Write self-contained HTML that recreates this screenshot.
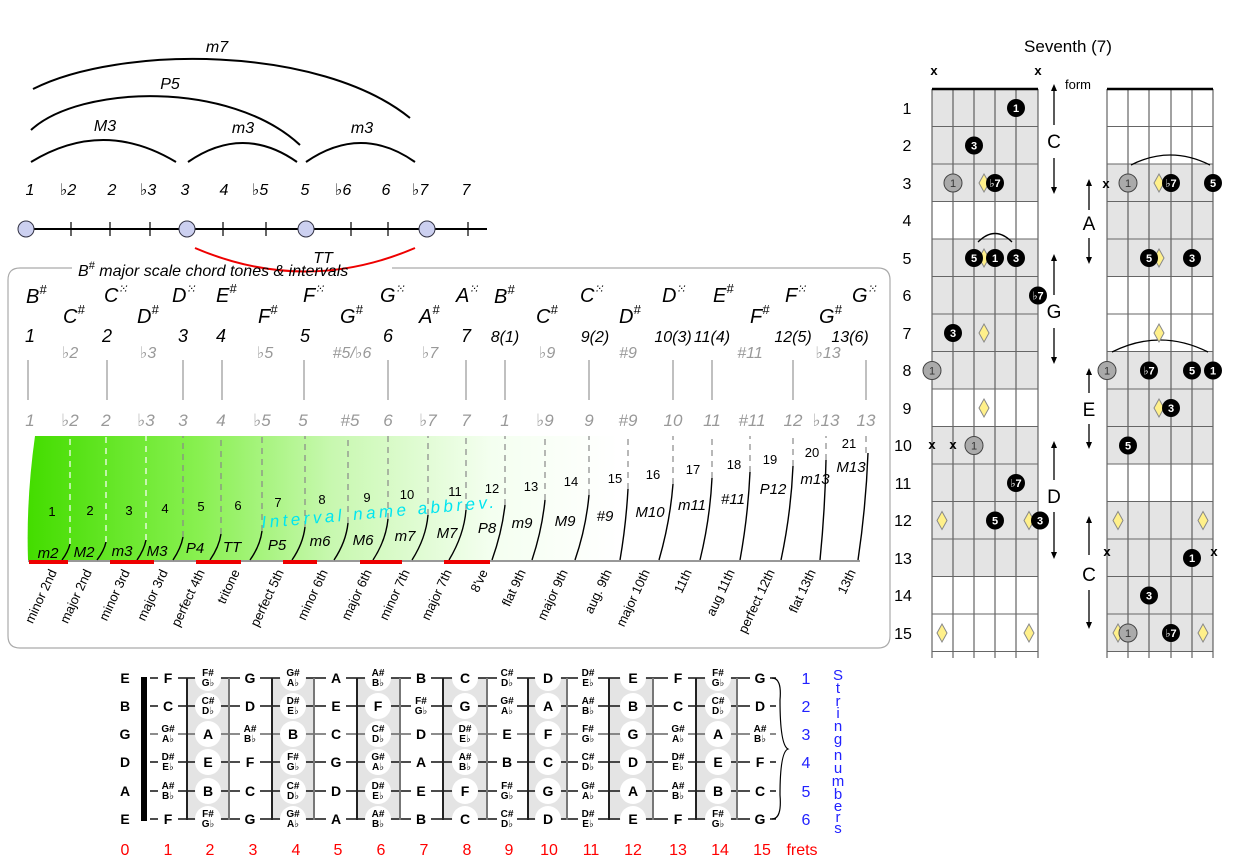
<!DOCTYPE html>
<html><head><meta charset="utf-8"><style>
body{margin:0;background:#fff}
svg{display:block;font-family:"Liberation Sans","DejaVu Sans",sans-serif}
.it{font-style:italic}
.g{fill:#999}
.nb{font-weight:bold;font-size:14px;text-anchor:middle}
.ns{font-weight:bold;font-size:10px;text-anchor:middle}
.dt{font-size:11px;font-weight:bold;text-anchor:middle;fill:#fff}
.rl{font-size:13px;text-anchor:end}
</style></head><body>
<svg width="1233" height="868" viewBox="0 0 1233 868">
<defs>
<linearGradient id="gr" x1="30" x2="870" y1="0" y2="0" gradientUnits="userSpaceOnUse">
<stop offset="0" stop-color="#44dd00"/><stop offset="0.2" stop-color="#88f050"/><stop offset="0.36" stop-color="#c8f8b0"/><stop offset="0.55" stop-color="#f4fff0"/><stop offset="0.7" stop-color="#fff"/></linearGradient>
<g id="dia"><polygon points="0,-9 5,0 0,9 -5,0" fill="#fff08a" stroke="#888" stroke-width="1"/></g>
</defs>

<!-- top arcs -->
<g fill="none" stroke="#000" stroke-width="2">
<path d="M31,162 Q103,118 176,162"/>
<path d="M188,162 Q243,124 297,162"/>
<path d="M306,162 Q361,124 415,162"/>
<path d="M31,130 C80,85 230,80 300,145"/>
<path d="M33,89 C120,45 320,45 410,118"/>
</g>
<path d="M195,248 Q305,295 415,248" fill="none" stroke="#e00" stroke-width="2"/>
<g class="it" font-size="16" text-anchor="middle">
<text x="217" y="52">m7</text><text x="170" y="89">P5</text><text x="105" y="131">M3</text><text x="243" y="133">m3</text><text x="362" y="133">m3</text>
<text x="323" y="263">TT</text>
<text x="30" y="195">1</text><text x="68" y="195">♭2</text><text x="112" y="195">2</text><text x="148" y="195">♭3</text><text x="185" y="195">3</text><text x="224" y="195">4</text><text x="260" y="195">♭5</text><text x="305" y="195">5</text><text x="343" y="195">♭6</text><text x="386" y="195">6</text><text x="420" y="195">♭7</text><text x="466" y="195">7</text>
</g>
<line x1="20" y1="229" x2="487" y2="229" stroke="#000" stroke-width="2"/>
<g stroke="#000" stroke-width="1.2"><line x1="71" y1="222" x2="71" y2="236"/><line x1="110" y1="222" x2="110" y2="236"/><line x1="150" y1="222" x2="150" y2="236"/><line x1="223" y1="222" x2="223" y2="236"/><line x1="266" y1="222" x2="266" y2="236"/><line x1="351" y1="222" x2="351" y2="236"/><line x1="388" y1="222" x2="388" y2="236"/><line x1="468" y1="222" x2="468" y2="236"/></g>
<g fill="#ccd0f0" stroke="#334" stroke-width="1"><circle cx="26" cy="229" r="8"/><circle cx="187" cy="229" r="8"/><circle cx="306" cy="229" r="8"/><circle cx="427" cy="229" r="8"/></g>

<!-- box -->
<path d="M72,268 H20 Q8,268 8,280 V636 Q8,648 20,648 H878 Q890,648 890,636 V280 Q890,268 878,268 H392" fill="none" stroke="#aaa" stroke-width="1.2"/>
<text x="78" y="276" class="it" font-size="16">B<tspan font-size="11" dy="-7">#</tspan><tspan dy="7"> major scale chord tones &amp; intervals</tspan></text>

<g class="it" font-size="20">
<text x="26" y="303">B<tspan font-size="13" dy="-9">#</tspan></text>
<text x="104" y="302">C<tspan font-size="12" dy="-9">⁙</tspan></text>
<text x="172" y="302">D<tspan font-size="12" dy="-9">⁙</tspan></text>
<text x="216" y="302">E<tspan font-size="13" dy="-9">#</tspan></text>
<text x="303" y="302">F<tspan font-size="12" dy="-9">⁙</tspan></text>
<text x="380" y="302">G<tspan font-size="12" dy="-9">⁙</tspan></text>
<text x="456" y="302">A<tspan font-size="12" dy="-9">⁙</tspan></text>
<text x="494" y="303">B<tspan font-size="13" dy="-9">#</tspan></text>
<text x="580" y="302">C<tspan font-size="12" dy="-9">⁙</tspan></text>
<text x="662" y="302">D<tspan font-size="12" dy="-9">⁙</tspan></text>
<text x="713" y="302">E<tspan font-size="13" dy="-9">#</tspan></text>
<text x="785" y="302">F<tspan font-size="12" dy="-9">⁙</tspan></text>
<text x="852" y="302">G<tspan font-size="12" dy="-9">⁙</tspan></text>
<text x="63" y="323">C<tspan font-size="13" dy="-9">#</tspan></text>
<text x="137" y="323">D<tspan font-size="13" dy="-9">#</tspan></text>
<text x="258" y="323">F<tspan font-size="13" dy="-9">#</tspan></text>
<text x="340" y="323">G<tspan font-size="13" dy="-9">#</tspan></text>
<text x="419" y="323">A<tspan font-size="13" dy="-9">#</tspan></text>
<text x="536" y="323">C<tspan font-size="13" dy="-9">#</tspan></text>
<text x="619" y="323">D<tspan font-size="13" dy="-9">#</tspan></text>
<text x="750" y="323">F<tspan font-size="13" dy="-9">#</tspan></text>
<text x="819" y="323">G<tspan font-size="13" dy="-9">#</tspan></text>
</g>
<g class="it" font-size="18" text-anchor="middle">
<text x="30" y="342">1</text><text x="107" y="342">2</text><text x="183" y="342">3</text><text x="221" y="342">4</text><text x="305" y="342">5</text><text x="388" y="342">6</text><text x="466" y="342">7</text>
<text x="505" y="342" font-size="16">8(1)</text><text x="595" y="342" font-size="16">9(2)</text><text x="673" y="342" font-size="16">10(3)</text><text x="712" y="342" font-size="16">11(4)</text><text x="793" y="342" font-size="16">12(5)</text><text x="850" y="342" font-size="16">13(6)</text>
</g>
<g class="it g" font-size="16" text-anchor="middle">
<text x="70" y="358">♭2</text><text x="148" y="358">♭3</text><text x="265" y="358">♭5</text><text x="352" y="358">#5/♭6</text><text x="430" y="358">♭7</text><text x="547" y="358">♭9</text><text x="628" y="358">#9</text><text x="750" y="358">#11</text><text x="828" y="358">♭13</text>
</g>
<g stroke="#aaa" stroke-width="1.5"><line x1="28" y1="360" x2="28" y2="400"/><line x1="107" y1="360" x2="107" y2="400"/><line x1="183" y1="360" x2="183" y2="400"/><line x1="222" y1="360" x2="222" y2="400"/><line x1="304" y1="360" x2="304" y2="400"/><line x1="388" y1="360" x2="388" y2="400"/><line x1="466" y1="360" x2="466" y2="400"/><line x1="505" y1="360" x2="505" y2="400"/><line x1="589" y1="360" x2="589" y2="400"/><line x1="673" y1="360" x2="673" y2="400"/><line x1="712" y1="360" x2="712" y2="400"/><line x1="793" y1="360" x2="793" y2="400"/><line x1="866" y1="360" x2="866" y2="400"/></g>
<g class="it g" font-size="17" text-anchor="middle">
<text x="30" y="426">1</text><text x="70" y="426">♭2</text><text x="106" y="426">2</text><text x="146" y="426">♭3</text><text x="183" y="426">3</text><text x="221" y="426">4</text><text x="262" y="426">♭5</text><text x="303" y="426">5</text><text x="350" y="426">#5</text><text x="388" y="426">6</text><text x="428" y="426">♭7</text><text x="466" y="426">7</text><text x="505" y="426">1</text><text x="545" y="426">♭9</text><text x="589" y="426">9</text><text x="628" y="426">#9</text><text x="673" y="426">10</text><text x="712" y="426">11</text><text x="752" y="426">#11</text><text x="793" y="426">12</text><text x="826" y="426">♭13</text><text x="866" y="426">13</text>
</g>

<!-- green region -->
<path d="M35,436 L870,436 L870,560 L28,560 Q26,500 35,436 Z" fill="url(#gr)"/>
<g fill="none" stroke-dasharray="6,5" stroke-width="1.2">
<g stroke="#fff"><path d="M70,544 L70,436"/><path d="M106,542 L106,436"/><path d="M146,540 L146,436"/></g>
<g stroke="#888"><path d="M183,537 L183,436"/><path d="M221,534 L221,436"/><path d="M262,531 L262,436"/><path d="M305,527 L305,436"/><path d="M348,523 L348,436"/><path d="M388,519 L388,436"/><path d="M428,515 L428,436"/><path d="M466,510 L466,436"/><path d="M505,505 L505,436"/><path d="M545,500 L545,436"/><path d="M589,495 L589,436"/><path d="M628,489 L628,436"/><path d="M673,484 L673,436"/><path d="M712,478 L712,436"/><path d="M750,472 L750,436"/><path d="M793,466 L793,436"/><path d="M826,460 L826,436"/><path d="M866,453 L866,436"/></g>
</g>
<g fill="none" stroke="#000" stroke-width="1.4">
<path d="M62,560 Q68,552 70,544"/><path d="M97,560 Q104,551 106,542"/><path d="M137,560 Q144,550 146,540"/><path d="M173,560 Q181,548 183,537"/><path d="M210,560 Q219,547 221,534"/><path d="M250,560 Q260,546 262,531"/><path d="M292,560 Q303,544 305,527"/><path d="M334,560 Q346,542 348,523"/><path d="M373,560 Q386,540 388,519"/><path d="M412,560 Q426,538 428,515"/><path d="M449,560 Q464,535 466,510"/><path d="M492,560 Q502,532 505,505"/><path d="M532,560 Q542,530 545,500"/><path d="M575,560 Q586,528 589,495"/><path d="M620,560 Q626,525 628,489"/><path d="M659,560 Q670,522 673,484"/><path d="M700,560 Q710,519 712,478"/><path d="M740,560 Q748,516 750,472"/><path d="M781,560 Q791,513 793,466"/><path d="M820,560 Q825,510 826,460"/><path d="M858,560 Q866,506 868,453"/>
</g>
<line x1="28" y1="561" x2="860" y2="561" stroke="#777" stroke-width="1.5"/>
<g stroke="#e00" stroke-width="4"><line x1="29" y1="562" x2="68" y2="562"/><line x1="110" y1="562" x2="154" y2="562"/><line x1="196" y1="562" x2="241" y2="562"/><line x1="283" y1="562" x2="317" y2="562"/><line x1="360" y1="562" x2="402" y2="562"/><line x1="444" y1="562" x2="490" y2="562"/></g>
<g font-size="13" text-anchor="middle">
<text x="52" y="516">1</text><text x="90" y="515">2</text><text x="129" y="515">3</text><text x="165" y="513">4</text><text x="201" y="511">5</text><text x="238" y="510">6</text><text x="278" y="507">7</text><text x="322" y="504">8</text><text x="367" y="502">9</text><text x="407" y="499">10</text><text x="455" y="496">11</text><text x="492" y="493">12</text><text x="531" y="491">13</text><text x="571" y="486">14</text><text x="615" y="483">15</text><text x="653" y="479">16</text><text x="693" y="474">17</text><text x="734" y="469">18</text><text x="770" y="464">19</text><text x="812" y="457">20</text><text x="849" y="448">21</text>
</g>
<g class="it" font-size="15" text-anchor="middle">
<text x="48" y="558">m2</text><text x="84" y="557">M2</text><text x="122" y="556">m3</text><text x="157" y="556">M3</text><text x="195" y="553">P4</text><text x="232" y="552">TT</text><text x="277" y="550">P5</text><text x="320" y="546">m6</text><text x="363" y="545">M6</text><text x="405" y="541">m7</text><text x="447" y="538">M7</text><text x="487" y="533">P8</text><text x="522" y="528">m9</text><text x="565" y="526">M9</text><text x="605" y="521">#9</text><text x="650" y="517">M10</text><text x="692" y="510">m11</text><text x="733" y="504">#11</text><text x="773" y="494">P12</text><text x="815" y="484">m13</text><text x="851" y="472">M13</text>
</g>
<text x="262" y="528" transform="rotate(-5 262 528)" font-size="17" fill="#00e5f0" letter-spacing="3.5" class="it">Interval name abbrev.</text>
<g class="rl">
<text transform="translate(57,572) rotate(-65)">minor 2nd</text>
<text transform="translate(92,572) rotate(-65)">major 2nd</text>
<text transform="translate(130,572) rotate(-65)">minor 3rd</text>
<text transform="translate(168,572) rotate(-65)">major 3rd</text>
<text transform="translate(205,572) rotate(-65)">perfect 4th</text>
<text transform="translate(240,572) rotate(-65)">tritone</text>
<text transform="translate(284,572) rotate(-65)">perfect 5th</text>
<text transform="translate(328,572) rotate(-65)">minor 6th</text>
<text transform="translate(372,572) rotate(-65)">major 6th</text>
<text transform="translate(410,572) rotate(-65)">minor 7th</text>
<text transform="translate(452,572) rotate(-65)">major 7th</text>
<text transform="translate(488,572) rotate(-65)">8've</text>
<text transform="translate(526,572) rotate(-65)">flat 9th</text>
<text transform="translate(568,572) rotate(-65)">major 9th</text>
<text transform="translate(612,572) rotate(-65)">aug. 9th</text>
<text transform="translate(650,572) rotate(-65)">major 10th</text>
<text transform="translate(692,572) rotate(-65)">11th</text>
<text transform="translate(735,572) rotate(-65)">aug 11th</text>
<text transform="translate(775,572) rotate(-65)">perfect 12th</text>
<text transform="translate(816,572) rotate(-65)">flat 13th</text>
<text transform="translate(856,572) rotate(-65)">13th</text>
</g>

<!-- bottom fretboard -->
<g fill="#e4e4e4"><rect x="187" y="678" width="42" height="142"/><rect x="272" y="678" width="42" height="142"/><rect x="357" y="678" width="43" height="142"/><rect x="443" y="678" width="44" height="142"/><rect x="528" y="678" width="39" height="142"/><rect x="609" y="678" width="44" height="142"/><rect x="696" y="678" width="41" height="142"/></g>
<g stroke="#111" stroke-width="1.5"><line x1="150" y1="678" x2="776" y2="678"/><line x1="150" y1="706" x2="776" y2="706"/><line x1="150" y1="734" x2="776" y2="734" stroke="#666"/><line x1="150" y1="762" x2="776" y2="762"/><line x1="150" y1="791" x2="776" y2="791"/><line x1="150" y1="819" x2="776" y2="819"/></g>
<g stroke="#222" stroke-width="2"><line x1="187" y1="678" x2="187" y2="820"/><line x1="229" y1="678" x2="229" y2="820" stroke="#777"/><line x1="272" y1="678" x2="272" y2="820"/><line x1="314" y1="678" x2="314" y2="820" stroke="#777"/><line x1="357" y1="678" x2="357" y2="820"/><line x1="400" y1="678" x2="400" y2="820" stroke="#777"/><line x1="443" y1="678" x2="443" y2="820"/><line x1="487" y1="678" x2="487" y2="820" stroke="#777"/><line x1="528" y1="678" x2="528" y2="820"/><line x1="567" y1="678" x2="567" y2="820" stroke="#777"/><line x1="609" y1="678" x2="609" y2="820"/><line x1="653" y1="678" x2="653" y2="820" stroke="#777"/><line x1="696" y1="678" x2="696" y2="820"/><line x1="737" y1="678" x2="737" y2="820" stroke="#777"/></g>
<rect x="141" y="677" width="6" height="144" fill="#000"/>
<g fill="#fff">
<circle cx="208" cy="678" r="13"/><circle cx="208" cy="706" r="13"/><circle cx="208" cy="734" r="13"/><circle cx="208" cy="762" r="13"/><circle cx="208" cy="791" r="13"/><circle cx="208" cy="819" r="13"/>
<circle cx="293" cy="678" r="13"/><circle cx="293" cy="706" r="13"/><circle cx="293" cy="734" r="13"/><circle cx="293" cy="762" r="13"/><circle cx="293" cy="791" r="13"/><circle cx="293" cy="819" r="13"/>
<circle cx="378" cy="678" r="13"/><circle cx="378" cy="706" r="13"/><circle cx="378" cy="734" r="13"/><circle cx="378" cy="762" r="13"/><circle cx="378" cy="791" r="13"/><circle cx="378" cy="819" r="13"/>
<circle cx="465" cy="678" r="13"/><circle cx="465" cy="706" r="13"/><circle cx="465" cy="734" r="13"/><circle cx="465" cy="762" r="13"/><circle cx="465" cy="791" r="13"/><circle cx="465" cy="819" r="13"/>
<circle cx="548" cy="678" r="13"/><circle cx="548" cy="706" r="13"/><circle cx="548" cy="734" r="13"/><circle cx="548" cy="762" r="13"/><circle cx="548" cy="791" r="13"/><circle cx="548" cy="819" r="13"/>
<circle cx="633" cy="678" r="13"/><circle cx="633" cy="706" r="13"/><circle cx="633" cy="734" r="13"/><circle cx="633" cy="762" r="13"/><circle cx="633" cy="791" r="13"/><circle cx="633" cy="819" r="13"/>
<circle cx="718" cy="678" r="13"/><circle cx="718" cy="706" r="13"/><circle cx="718" cy="734" r="13"/><circle cx="718" cy="762" r="13"/><circle cx="718" cy="791" r="13"/><circle cx="718" cy="819" r="13"/>
</g>
<g fill="#fff">
<rect x="158" y="668" width="20" height="156"/><rect x="240" y="668" width="20" height="156"/><rect x="326" y="668" width="20" height="156"/><rect x="411" y="668" width="20" height="156"/><rect x="497" y="668" width="20" height="156"/><rect x="578" y="668" width="20" height="156"/><rect x="668" y="668" width="20" height="156"/><rect x="750" y="668" width="20" height="156"/>
</g>
<g class="nb">
<text x="125" y="683">E</text><text x="125" y="711">B</text><text x="125" y="739">G</text><text x="125" y="767">D</text><text x="125" y="796">A</text><text x="125" y="824">E</text>
</g>
<g class="nb">
<text x="168" y="683">F</text><text x="250" y="683">G</text><text x="336" y="683">A</text><text x="421" y="683">B</text><text x="465" y="683">C</text><text x="548" y="683">D</text><text x="633" y="683">E</text><text x="678" y="683">F</text><text x="760" y="683">G</text>
<text x="168" y="824">F</text><text x="250" y="824">G</text><text x="336" y="824">A</text><text x="421" y="824">B</text><text x="465" y="824">C</text><text x="548" y="824">D</text><text x="633" y="824">E</text><text x="678" y="824">F</text><text x="760" y="824">G</text>
<text x="168" y="711">C</text><text x="250" y="711">D</text><text x="336" y="711">E</text><text x="378" y="711">F</text><text x="465" y="711">G</text><text x="548" y="711">A</text><text x="633" y="711">B</text><text x="678" y="711">C</text><text x="760" y="711">D</text>
<text x="208" y="739">A</text><text x="293" y="739">B</text><text x="336" y="739">C</text><text x="421" y="739">D</text><text x="507" y="739">E</text><text x="548" y="739">F</text><text x="633" y="739">G</text><text x="718" y="739">A</text>
<text x="208" y="767">E</text><text x="250" y="767">F</text><text x="336" y="767">G</text><text x="421" y="767">A</text><text x="507" y="767">B</text><text x="548" y="767">C</text><text x="633" y="767">D</text><text x="718" y="767">E</text><text x="760" y="767">F</text>
<text x="208" y="796">B</text><text x="250" y="796">C</text><text x="336" y="796">D</text><text x="421" y="796">E</text><text x="465" y="796">F</text><text x="548" y="796">G</text><text x="633" y="796">A</text><text x="718" y="796">B</text><text x="760" y="796">C</text>
</g>
<g class="ns">
<text x="208" y="676">F#</text><text x="208" y="686">G♭</text><text x="293" y="676">G#</text><text x="293" y="686">A♭</text><text x="378" y="676">A#</text><text x="378" y="686">B♭</text><text x="507" y="676">C#</text><text x="507" y="686">D♭</text><text x="588" y="676">D#</text><text x="588" y="686">E♭</text><text x="718" y="676">F#</text><text x="718" y="686">G♭</text>
<text x="208" y="817">F#</text><text x="208" y="827">G♭</text><text x="293" y="817">G#</text><text x="293" y="827">A♭</text><text x="378" y="817">A#</text><text x="378" y="827">B♭</text><text x="507" y="817">C#</text><text x="507" y="827">D♭</text><text x="588" y="817">D#</text><text x="588" y="827">E♭</text><text x="718" y="817">F#</text><text x="718" y="827">G♭</text>
<text x="208" y="704">C#</text><text x="208" y="714">D♭</text><text x="293" y="704">D#</text><text x="293" y="714">E♭</text><text x="421" y="704">F#</text><text x="421" y="714">G♭</text><text x="507" y="704">G#</text><text x="507" y="714">A♭</text><text x="588" y="704">A#</text><text x="588" y="714">B♭</text><text x="718" y="704">C#</text><text x="718" y="714">D♭</text>
<text x="168" y="732">G#</text><text x="168" y="742">A♭</text><text x="250" y="732">A#</text><text x="250" y="742">B♭</text><text x="378" y="732">C#</text><text x="378" y="742">D♭</text><text x="465" y="732">D#</text><text x="465" y="742">E♭</text><text x="588" y="732">F#</text><text x="588" y="742">G♭</text><text x="678" y="732">G#</text><text x="678" y="742">A♭</text><text x="760" y="732">A#</text><text x="760" y="742">B♭</text>
<text x="168" y="760">D#</text><text x="168" y="770">E♭</text><text x="293" y="760">F#</text><text x="293" y="770">G♭</text><text x="378" y="760">G#</text><text x="378" y="770">A♭</text><text x="465" y="760">A#</text><text x="465" y="770">B♭</text><text x="588" y="760">C#</text><text x="588" y="770">D♭</text><text x="678" y="760">D#</text><text x="678" y="770">E♭</text>
<text x="168" y="789">A#</text><text x="168" y="799">B♭</text><text x="293" y="789">C#</text><text x="293" y="799">D♭</text><text x="378" y="789">D#</text><text x="378" y="799">E♭</text><text x="507" y="789">F#</text><text x="507" y="799">G♭</text><text x="588" y="789">G#</text><text x="588" y="799">A♭</text><text x="678" y="789">A#</text><text x="678" y="799">B♭</text>
</g>
<path d="M772,678 Q782,678 780,700 Q780,745 788,749 Q780,752 780,795 Q782,819 772,819" fill="none" stroke="#000" stroke-width="1.2"/>
<g fill="#22f" font-size="16" text-anchor="middle"><text x="806" y="684">1</text><text x="806" y="712">2</text><text x="806" y="740">3</text><text x="806" y="768">4</text><text x="806" y="797">5</text><text x="806" y="825">6</text></g>
<g fill="#22f" font-size="15" text-anchor="middle">
<text x="838" y="680">S</text><text x="838" y="693">t</text><text x="838" y="706">r</text><text x="838" y="718">i</text><text x="838" y="731">n</text><text x="838" y="744">g</text><text x="838" y="760">n</text><text x="838" y="773">u</text><text x="838" y="786">m</text><text x="838" y="799">b</text><text x="838" y="811">e</text><text x="838" y="822">r</text><text x="838" y="833">s</text>
</g>
<g fill="#f00" font-size="16" text-anchor="middle">
<text x="125" y="855">0</text><text x="168" y="855">1</text><text x="210" y="855">2</text><text x="253" y="855">3</text><text x="296" y="855">4</text><text x="338" y="855">5</text><text x="381" y="855">6</text><text x="424" y="855">7</text><text x="467" y="855">8</text><text x="509" y="855">9</text><text x="549" y="855">10</text><text x="591" y="855">11</text><text x="633" y="855">12</text><text x="678" y="855">13</text><text x="720" y="855">14</text><text x="762" y="855">15</text><text x="802" y="855">frets</text>
</g>

<!-- right side -->
<text x="1068" y="52" font-size="17" text-anchor="middle">Seventh (7)</text>
<g font-size="16" text-anchor="middle">
<text x="907" y="114">1</text><text x="907" y="151">2</text><text x="907" y="189">3</text><text x="907" y="226">4</text><text x="907" y="264">5</text><text x="907" y="301">6</text><text x="907" y="339">7</text><text x="907" y="376">8</text><text x="907" y="414">9</text><text x="903" y="451">10</text><text x="903" y="489">11</text><text x="903" y="526">12</text><text x="903" y="564">13</text><text x="903" y="601">14</text><text x="903" y="639">15</text>
</g>
<g fill="#e4e4e4">
<rect x="932" y="89" width="106" height="112.5"/><rect x="932" y="239" width="106" height="150"/><rect x="932" y="426.5" width="106" height="150"/>
<rect x="1107" y="164" width="106" height="112.5"/><rect x="1107" y="351.5" width="106" height="112.5"/><rect x="1107" y="501.5" width="106" height="150"/>
</g>
<g stroke="#444" stroke-width="1">
<line x1="932" y1="89" x2="932" y2="658"/><line x1="953" y1="89" x2="953" y2="658"/><line x1="974" y1="89" x2="974" y2="658"/><line x1="995" y1="89" x2="995" y2="658"/><line x1="1016" y1="89" x2="1016" y2="658"/><line x1="1038" y1="89" x2="1038" y2="658"/>
<line x1="1107" y1="89" x2="1107" y2="658"/><line x1="1128" y1="89" x2="1128" y2="658"/><line x1="1149" y1="89" x2="1149" y2="658"/><line x1="1171" y1="89" x2="1171" y2="658"/><line x1="1192" y1="89" x2="1192" y2="658"/><line x1="1213" y1="89" x2="1213" y2="658"/>
</g>
<g stroke="#666" stroke-width="1">
<path d="M932,126.5H1038M932,164H1038M932,201.5H1038M932,239H1038M932,276.5H1038M932,314H1038M932,351.5H1038M932,389H1038M932,426.5H1038M932,464H1038M932,501.5H1038M932,539H1038M932,576.5H1038M932,614H1038M932,651.5H1038"/>
<path d="M1107,126.5H1213M1107,164H1213M1107,201.5H1213M1107,239H1213M1107,276.5H1213M1107,314H1213M1107,351.5H1213M1107,389H1213M1107,426.5H1213M1107,464H1213M1107,501.5H1213M1107,539H1213M1107,576.5H1213M1107,614H1213M1107,651.5H1213"/>
</g>
<line x1="932" y1="89" x2="1038" y2="89" stroke="#000" stroke-width="2.5"/>
<line x1="1107" y1="89" x2="1213" y2="89" stroke="#000" stroke-width="2.5"/>
<g font-size="13" font-weight="bold" text-anchor="middle">
<text x="934" y="75">x</text><text x="1038" y="75">x</text><text x="932" y="449">x</text><text x="953" y="449">x</text><text x="1106" y="188">x</text><text x="1107" y="556">x</text><text x="1214" y="556">x</text>
</g>
<text x="1078" y="89" font-size="13" text-anchor="middle">form</text>
<g stroke="#000" stroke-width="1.3" fill="none">
<path d="M1054,88V125M1054,158V190"/><path d="M1054,258V295M1054,328V360"/><path d="M1054,445V480M1054,512V555"/>
<path d="M1089,183V210M1089,238V260"/><path d="M1089,372V393M1089,424V445"/><path d="M1089,520V555M1089,590V625"/>
<path d="M1131,165 Q1170,145 1210,165"/><path d="M1112,352 Q1160,328 1208,352"/><path d="M978,242 Q995,225 1012,242"/>
</g>
<g fill="#000">
<path d="M1054,84l-3,7h6z"/><path d="M1054,194l-3,-7h6z"/><path d="M1054,254l-3,7h6z"/><path d="M1054,364l-3,-7h6z"/><path d="M1054,441l-3,7h6z"/><path d="M1054,559l-3,-7h6z"/>
<path d="M1089,179l-3,7h6z"/><path d="M1089,264l-3,-7h6z"/><path d="M1089,368l-3,7h6z"/><path d="M1089,449l-3,-7h6z"/><path d="M1089,516l-3,7h6z"/><path d="M1089,629l-3,-7h6z"/>
</g>
<g font-size="19" text-anchor="middle"><text x="1054" y="148">C</text><text x="1054" y="318">G</text><text x="1054" y="503">D</text><text x="1089" y="230">A</text><text x="1089" y="416">E</text><text x="1089" y="581">C</text></g>
<use href="#dia" x="984" y="183"/><use href="#dia" x="984" y="258"/><use href="#dia" x="984" y="333"/><use href="#dia" x="984" y="408"/><use href="#dia" x="942" y="520.5"/><use href="#dia" x="1029" y="520.5"/><use href="#dia" x="942" y="633"/><use href="#dia" x="1029" y="633"/>
<use href="#dia" x="1159" y="183"/><use href="#dia" x="1159" y="258"/><use href="#dia" x="1159" y="333"/><use href="#dia" x="1159" y="408"/><use href="#dia" x="1118" y="520.5"/><use href="#dia" x="1203" y="520.5"/><use href="#dia" x="1118" y="633"/><use href="#dia" x="1203" y="633"/>
<g fill="#aaa" stroke="#444" stroke-width="1"><circle cx="953" cy="183" r="9"/><circle cx="932" cy="370.5" r="9"/><circle cx="974" cy="445.5" r="9"/><circle cx="1128" cy="183" r="9"/><circle cx="1107" cy="370.5" r="9"/><circle cx="1128" cy="633" r="9"/></g>
<g font-size="11" text-anchor="middle" fill="#333"><text x="953" y="187">1</text><text x="932" y="374.5">1</text><text x="974" y="449.5">1</text><text x="1128" y="187">1</text><text x="1107" y="374.5">1</text><text x="1128" y="637">1</text></g>
<g fill="#000">
<circle cx="1016" cy="108" r="9"/><circle cx="974" cy="145.5" r="9"/><circle cx="995" cy="183" r="9"/><circle cx="974" cy="258" r="9"/><circle cx="995" cy="258" r="9"/><circle cx="1016" cy="258" r="9"/><circle cx="1038" cy="295.5" r="9"/><circle cx="953" cy="333" r="9"/><circle cx="1016" cy="483" r="9"/><circle cx="995" cy="520.5" r="9"/><circle cx="1040" cy="520.5" r="9"/>
<circle cx="1171" cy="183" r="9"/><circle cx="1213" cy="183" r="9"/><circle cx="1149" cy="258" r="9"/><circle cx="1192" cy="258" r="9"/><circle cx="1149" cy="370.5" r="9"/><circle cx="1192" cy="370.5" r="9"/><circle cx="1213" cy="370.5" r="9"/><circle cx="1171" cy="408" r="9"/><circle cx="1128" cy="445.5" r="9"/><circle cx="1192" cy="558" r="9"/><circle cx="1149" cy="595.5" r="9"/><circle cx="1171" cy="633" r="9"/>
</g>
<g class="dt">
<text x="1016" y="112">1</text><text x="974" y="149.5">3</text><text x="995" y="187">♭7</text><text x="974" y="262">5</text><text x="995" y="262">1</text><text x="1016" y="262">3</text><text x="1038" y="299.5">♭7</text><text x="953" y="337">3</text><text x="1016" y="487">♭7</text><text x="995" y="524.5">5</text><text x="1040" y="524.5">3</text>
<text x="1171" y="187">♭7</text><text x="1213" y="187">5</text><text x="1149" y="262">5</text><text x="1192" y="262">3</text><text x="1149" y="374.5">♭7</text><text x="1192" y="374.5">5</text><text x="1213" y="374.5">1</text><text x="1171" y="412">3</text><text x="1128" y="449.5">5</text><text x="1192" y="562">1</text><text x="1149" y="599.5">3</text><text x="1171" y="637">♭7</text>
</g>
</svg>
</body></html>
